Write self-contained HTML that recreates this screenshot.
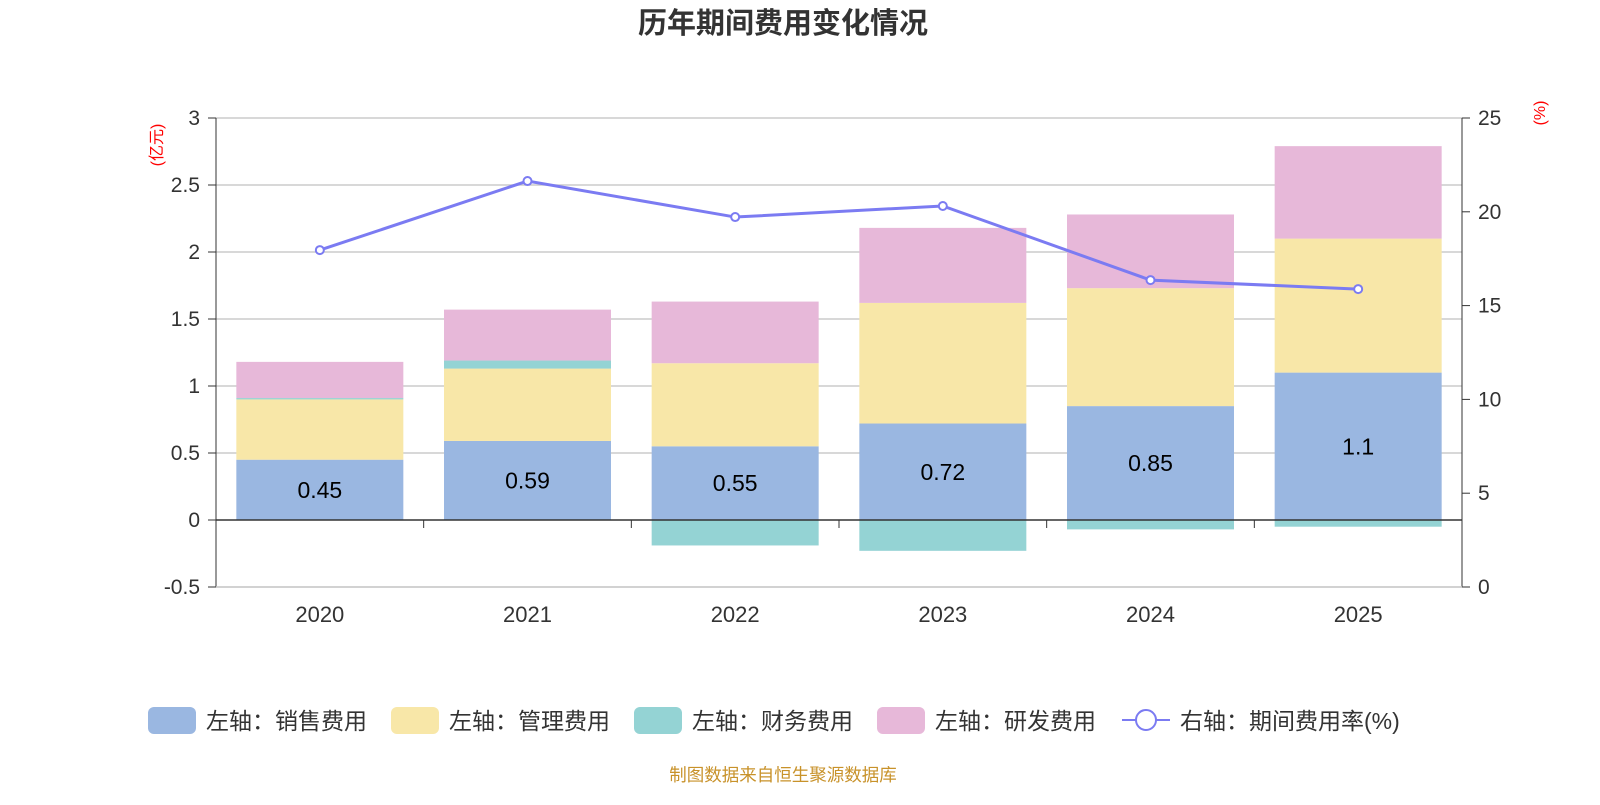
<!DOCTYPE html>
<html><head><meta charset="utf-8"><style>
body{margin:0;background:#fff;width:1600px;height:800px;overflow:hidden;font-family:"Liberation Sans","Noto Sans CJK SC",sans-serif}
</style></head><body>
<svg id="c" width="1600" height="800" xmlns="http://www.w3.org/2000/svg" font-family="Liberation Sans, Noto Sans CJK SC, sans-serif"></svg>
<script>
const categories=['2020','2021','2022','2023','2024','2025'];
const sales=[0.45,0.59,0.55,0.72,0.85,1.1];
const mgmt=[0.45,0.54,0.62,0.90,0.88,1.0];
const finance=[0.01,0.06,-0.19,-0.23,-0.07,-0.05];
const rnd=[0.27,0.38,0.46,0.56,0.55,0.69];
const rate=[17.96,21.64,19.72,20.31,16.36,15.88];
const leftTicks=[-0.5,0,0.5,1,1.5,2,2.5,3];
const rightTicks=[0,5,10,15,20,25];
const NS='http://www.w3.org/2000/svg';
const svg=document.getElementById('c');
const X0=216,X1=1462,Y0=118,Y1=587;
const yL=v=>Y1-(v+0.5)/3.5*(Y1-Y0);
const yR=v=>Y1-v/25*(Y1-Y0);
const bw=(X1-X0)/categories.length;
const xC=i=>X0+bw*(i+0.5);
function el(t,a,txt){const e=document.createElementNS(NS,t);for(const k in a)e.setAttribute(k,a[k]);if(txt!==undefined)e.textContent=txt;svg.appendChild(e);return e;}
let t=el('text',{x:783,y:33,'text-anchor':'middle','font-size':29,'font-weight':'bold',fill:'#333'},'历年期间费用变化情况');

leftTicks.forEach(v=>{
 if(v!==0){const g=el('line',{x1:X0,x2:X1,y1:yL(v),y2:yL(v),stroke:'#ccc','stroke-width':1.5});}
 const l=el('text',{x:200,y:yL(v)+7,'text-anchor':'end','font-size':21,fill:'#333'},String(v));
 
 el('line',{x1:208,x2:X0,y1:yL(v),y2:yL(v),stroke:'#333'});
});
rightTicks.forEach(v=>{
 const l=el('text',{x:1478,y:yR(v)+7,'font-size':21,fill:'#333'},String(v));
 
 el('line',{x1:X1,x2:X1+8,y1:yR(v),y2:yR(v),stroke:'#333'});
});
el('line',{x1:X0,x2:X0,y1:Y0,y2:Y1,stroke:'#333'});
el('line',{x1:X1,x2:X1,y1:Y0,y2:Y1,stroke:'#333'});
let a=el('text',{x:162,y:145,'font-size':16,fill:'red',transform:'rotate(-90 162 145)','text-anchor':'middle'},'(亿元)');
a=el('text',{x:1545,y:113,'font-size':16,fill:'red',transform:'rotate(-90 1545 113)','text-anchor':'middle'},'(%)');
const BW=167;
categories.forEach((c,i)=>{
 const x=xC(i)-BW/2;
 let pos=0;
 const stack=[[sales[i],'#9ab7e1','bar-sales'],[mgmt[i],'#f8e7a8','bar-mgmt'],[finance[i],'#94d3d4','bar-finance'],[rnd[i],'#e7b8d9','bar-rnd']];
 stack.forEach(([v,col,nm])=>{
  let y1,y2;
  if(v>=0){y1=yL(pos+v);y2=yL(pos);pos+=v;}else{y1=yL(0);y2=yL(v);}
  const r=el('rect',{x:x,y:y1,width:BW,height:Math.max(0,y2-y1),fill:col});
  
 });
 const lb=el('text',{x:xC(i),y:(yL(0)+yL(sales[i]))/2+8,'text-anchor':'middle','font-size':23,fill:'#000'},String(sales[i]));
 
 const xl=el('text',{x:xC(i),y:622,'text-anchor':'middle','font-size':22,fill:'#333'},c);
 
 el('line',{x1:X0+bw*(i+1),x2:X0+bw*(i+1),y1:yL(0),y2:yL(0)+8,stroke:'#333'});
});
el('line',{x1:X0,x2:X1,y1:yL(0),y2:yL(0),stroke:'#333','stroke-width':1.5});
el('line',{x1:X0,x2:X1,y1:Y1,y2:Y1,stroke:'#ccc','stroke-width':1.5});
const pl=el('polyline',{points:rate.map((v,i)=>xC(i)+','+yR(v)).join(' '),fill:'none',stroke:'#7b7bf2','stroke-width':3});

rate.forEach((v,i)=>{const p=el('circle',{cx:xC(i),cy:yR(v),r:4,fill:'#fff',stroke:'#7b7bf2','stroke-width':2});});
const leg=[['左轴：销售费用','#9ab7e1',148],['左轴：管理费用','#f8e7a8',391],['左轴：财务费用','#94d3d4',634],['左轴：研发费用','#e7b8d9',877]];
leg.forEach(([n,col,x])=>{
 const r=el('rect',{x:x,y:707,width:48,height:27,rx:6,fill:col});
 const tx=el('text',{x:x+58,y:729,'font-size':23,fill:'#333'},n);
});
el('line',{x1:1122,x2:1170,y1:720,y2:720,stroke:'#7b7bf2','stroke-width':2});
el('circle',{cx:1146,cy:720,r:10,fill:'#fff',stroke:'#7b7bf2','stroke-width':2});
const lt=el('text',{x:1180,y:729,'font-size':23,fill:'#333'},'右轴：期间费用率(%)');
const src=el('text',{x:783,y:781,'text-anchor':'middle','font-size':17.5,fill:'#c8922a'},'制图数据来自恒生聚源数据库');
</script>
</body></html>
